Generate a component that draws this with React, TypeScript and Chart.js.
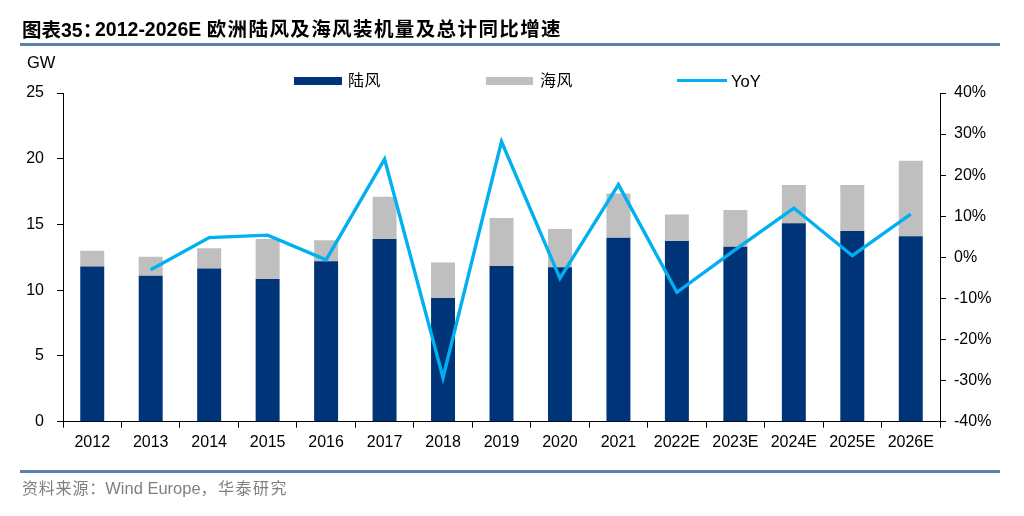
import React, { useEffect, useRef } from "react";
import { Chart, registerables } from "chart.js";

Chart.register(...registerables);

const categories = ["2012", "2013", "2014", "2015", "2016", "2017", "2018", "2019", "2020", "2021", "2022E", "2023E", "2024E", "2025E", "2026E"];
const onshore = [11.8, 11.1, 11.65, 10.85, 12.2, 13.9, 9.4, 11.85, 11.75, 14.0, 13.75, 13.3, 15.1, 14.5, 14.1];
const offshore = [1.2, 1.45, 1.55, 3.05, 1.6, 3.2, 2.7, 3.65, 2.9, 3.35, 2.0, 2.8, 2.9, 3.5, 5.75];
const yoy = [null, -3.0, 4.8, 5.4, -0.6, 23.9, -29.3, 28.2, -5.1, 17.7, -8.5, 1.9, 12.0, 0.4, 10.5];
const leftTicks = { min: 0, max: 25, step: 5 };
const rightTicks = { min: -40, max: 40, step: 10 };

const DARK = "#003478";
const GRAY = "#BFBFBF";
const CYAN = "#00B0F0";
const RULE = "#5B7FAF";
const FONT = "'Liberation Sans', Arial, 'Noto Sans CJK SC', sans-serif";

export default function App() {
  const ref = useRef<HTMLCanvasElement | null>(null);

  useEffect(() => {
    if (!ref.current) return;
    const tickFont = { family: FONT, size: 16 };
    const chart = new Chart(ref.current, {
      type: "bar",
      data: {
        labels: categories,
        datasets: [
          {
            type: "line",
            label: "YoY",
            data: yoy,
            yAxisID: "y1",
            borderColor: CYAN,
            backgroundColor: CYAN,
            borderWidth: 3.4,
            pointRadius: 0,
            tension: 0,
            order: 0,
          } as any,
          {
            type: "bar",
            label: "陆风",
            data: onshore,
            yAxisID: "y",
            backgroundColor: DARK,
            barPercentage: 0.41,
            categoryPercentage: 1,
            stack: "s",
            order: 1,
          },
          {
            type: "bar",
            label: "海风",
            data: offshore,
            yAxisID: "y",
            backgroundColor: GRAY,
            barPercentage: 0.41,
            categoryPercentage: 1,
            stack: "s",
            order: 1,
          },
        ],
      },
      options: {
        responsive: false,
        animation: false,
        devicePixelRatio: 1,
        layout: { padding: { top: 93, left: 0, right: 0, bottom: 0 } },
        plugins: { legend: { display: false }, tooltip: { enabled: false } },
        scales: {
          x: {
            stacked: true,
            grid: { display: true, drawOnChartArea: false, drawTicks: true, tickLength: 6, color: "#000", offset: true },
            border: { color: "#000", width: 1 },
            ticks: { color: "#000", font: tickFont, padding: 5, maxRotation: 0, autoSkip: false },
            afterFit: (s: any) => { s.height = 516 - 421.7; },
          },
          y: {
            stacked: true,
            position: "left",
            min: leftTicks.min,
            max: leftTicks.max,
            grid: { display: true, drawOnChartArea: false, drawTicks: true, tickLength: 6, color: "#000" },
            border: { color: "#000", width: 1 },
            ticks: { stepSize: leftTicks.step, color: "#000", font: tickFont, padding: 13 },
            afterFit: (s: any) => { s.width = 63; },
          },
          y1: {
            position: "right",
            min: rightTicks.min,
            max: rightTicks.max,
            grid: { display: true, drawOnChartArea: false, drawTicks: true, tickLength: 6, color: "#000" },
            border: { color: "#000", width: 1 },
            ticks: { stepSize: rightTicks.step, color: "#000", font: tickFont, padding: 8, callback: (v: any) => `${v}%` },
            afterFit: (s: any) => { s.width = 1024 - 940; },
          },
        },
      },
    });
    return () => chart.destroy();
  }, []);

  const abs = (o: React.CSSProperties): React.CSSProperties => ({ position: "absolute", ...o });

  return (
    <div style={{ position: "fixed", left: 0, top: 0, width: 1024, height: 516, background: "#fff", overflow: "hidden", fontFamily: FONT }}>
      <canvas ref={ref} width={1024} height={516} style={abs({ left: 0, top: 0, width: 1024, height: 516 })} />
      <div style={abs({ left: 22, top: 18, fontSize: 19.5, fontWeight: "bold", color: "#000", whiteSpace: "nowrap", lineHeight: "22px" })}>
        图表35<span style={{ fontFamily: "'Noto Sans CJK SC', sans-serif" }}>：</span>
      </div>
      <div style={abs({ left: 95, top: 18, fontSize: 19.5, fontWeight: "bold", color: "#000", whiteSpace: "nowrap", lineHeight: "22px" })}>
        2012-2026E <span style={{ letterSpacing: 1.4 }}>欧洲陆风及海风装机量及总计同比增速</span>
      </div>
      <div style={abs({ left: 20, top: 43, width: 980, height: 3, background: RULE })} />
      <div style={abs({ left: 27, top: 52, fontSize: 16.5, color: "#000", lineHeight: "20px" })}>GW</div>

      <div style={abs({ left: 294, top: 77, width: 48, height: 8, background: DARK })} />
      <div style={abs({ left: 348, top: 71, fontSize: 16, lineHeight: "20px", color: "#000", letterSpacing: 0.5 })}>陆风</div>
      <div style={abs({ left: 486, top: 77, width: 47, height: 8, background: GRAY })} />
      <div style={abs({ left: 540, top: 71, fontSize: 16, lineHeight: "20px", color: "#000", letterSpacing: 0.5 })}>海风</div>
      <div style={abs({ left: 677, top: 79, width: 50, height: 3, background: CYAN })} />
      <div style={abs({ left: 731, top: 71, fontSize: 16.5, lineHeight: "20px", color: "#000" })}>YoY</div>

      <div style={abs({ left: 20, top: 470, width: 980, height: 3, background: RULE })} />
      <div style={abs({ left: 22, top: 477, fontSize: 16, lineHeight: "20px", color: "#7F7F7F", whiteSpace: "nowrap" })}>
        <span style={{ letterSpacing: 0.8 }}>资料来源</span>
        <span style={{ fontFamily: "'Noto Sans CJK SC', sans-serif" }}>：</span>
        <span style={{ fontSize: 16.5 }}>Wind Europe</span>
        <span style={{ fontFamily: "'Noto Sans CJK SC', sans-serif", letterSpacing: 1.5 }}>，华泰研究</span>
      </div>
    </div>
  );
}
